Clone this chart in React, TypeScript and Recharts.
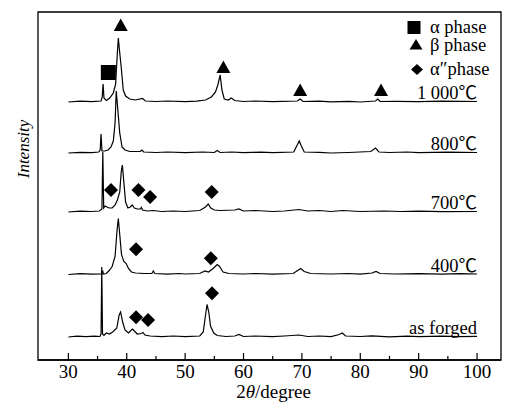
import React from 'react';
import { ComposedChart, Line, Scatter, XAxis, YAxis, ReferenceArea, Legend } from 'recharts';

const FONT = "'Liberation Serif', 'Times New Roman', 'Noto Sans CJK SC', serif";

// 2θ axis
const xDomain = [24.8, 104.1];
const xTicks = [30, 35, 40, 45, 50, 55, 60, 65, 70, 75, 80, 85, 90, 95, 100];
const yDomain = [0, 348];

// curve names and their vertical offsets (arbitrary intensity units)
const curveNames = ['as forged', '400℃', '700℃', '800℃', '1 000℃'];
const curveOffsets = [23, 85.5, 148, 207, 258];

// [2θ, intensity above the curve's own baseline]
const asForged: [number, number][] = [
  [30, 0], [31.5, 0.8], [33, 0.3], [34.5, 0.8], [35.4, 0.5], [35.6, 3], [35.72, 70], [35.85, 3], [36.1, 1.5],
  [36.5, 4], [37, 3], [37.6, 5], [38.3, 9], [38.7, 22], [38.95, 25], [39.3, 15], [39.7, 7], [40.3, 4],
  [40.8, 7], [41.0, 8], [41.3, 6], [41.8, 3], [42.5, 3.5], [42.8, 4.5], [43.1, 2], [44, 1], [46, 0.3],
  [48, 1], [50, 0.4], [52.5, 1], [53.1, 5], [53.45, 20], [53.75, 32.5], [54.05, 25], [54.35, 11], [54.9, 4],
  [55.5, 1.5], [57, 0.5], [58.5, 1], [59.2, 2.5], [60, 0.5], [62, 1], [65, 0.3], [67, 1], [69.5, 2],
  [71, 0.5], [73, 1], [75, 0.3], [76.4, 2.5], [76.9, 4], [77.5, 1], [80, 0.5], [82, 1.2], [85, 0.2],
  [88, 0.8], [90, 0.3], [94, 0.9], [97, 0.4], [100, 0.6],
];

const t400: [number, number][] = [
  [30, 0], [32, 0.8], [34, 0.3], [35.7, 0.5], [35.85, 4], [36.0, 0.5], [36.5, 1], [37.0, 4], [37.5, 8],
  [38.0, 18], [38.35, 45], [38.56, 56], [38.8, 40], [39.1, 20], [39.5, 13], [39.9, 11], [40.3, 6],
  [40.8, 2.5], [41.5, 1.5], [43, 1], [44.3, 1], [44.55, 3.5], [44.8, 1], [47, 0.3], [49, 1], [50, 0.5],
  [52.5, 1], [53.4, 3.5], [54, 2.5], [54.8, 6], [55.5, 10], [55.9, 8], [56.5, 2.5], [57.5, 1], [60, 0.5],
  [62, 1], [65, 0.3], [68.5, 1], [69.4, 4.5], [69.8, 6], [70.4, 3], [71.5, 1], [75, 0.5], [78, 1],
  [80, 0.3], [82, 1.5], [82.7, 3], [83.4, 1], [86, 0.5], [90, 0.8], [94, 0.3], [97, 0.8], [100, 0.5],
];

const t700: [number, number][] = [
  [30, 0], [32, 0.8], [34, 0.5], [35.3, 1], [35.75, 3], [35.9, 60], [36.05, 4], [36.3, 6], [36.6, 5],
  [37.0, 4], [37.5, 4], [38.0, 7], [38.4, 12], [38.8, 20], [39.05, 40], [39.25, 47], [39.5, 30],
  [39.8, 10], [40.2, 4], [40.6, 5], [40.95, 7], [41.3, 4], [41.8, 3], [42.3, 3], [42.5, 4.5], [42.7, 2],
  [43.5, 1], [44.5, 1.5], [46, 0.5], [48, 1], [50, 0.5], [52.5, 1.5], [53.5, 5], [53.95, 8], [54.4, 4],
  [55, 2], [56, 1.5], [58.5, 2], [59.2, 3], [60, 1], [62, 1.5], [65, 0.5], [67, 1], [69.5, 2.5], [71, 1],
  [73, 1.5], [75, 0.5], [77, 1.5], [80, 0.5], [84, 1], [87, 0.5], [90, 0.8], [94, 0.3], [100, 0.5],
];

const t800: [number, number][] = [
  [30, 0], [32, 0.6], [34, 0.3], [35.2, 1], [35.45, 3], [35.6, 19], [35.75, 2], [36.2, 2], [36.8, 3],
  [37.3, 6], [37.7, 12], [38.0, 30], [38.2, 62], [38.45, 45], [38.8, 20], [39.2, 6], [39.7, 3],
  [40.5, 1.5], [42.3, 1.5], [42.6, 3], [42.9, 1], [45, 0.5], [47, 1], [50, 0.4], [53, 1], [55, 0.5],
  [55.5, 2.5], [56, 0.5], [58, 1], [60, 0.4], [63, 0.9], [65, 0.3], [68.6, 1], [69.2, 8], [69.55, 12],
  [69.9, 7], [70.4, 1], [73, 0.6], [75, 0], [78, 0.5], [81.8, 1.5], [82.6, 5], [83.2, 1], [85, 0.5],
  [88, 1], [90, 0.4], [95, 0.8], [100, 0.5],
];

const t1000: [number, number][] = [
  [30, 0], [32, 0.8], [34, 0.4], [35.6, 1], [35.8, 5], [35.95, 18], [36.1, 4], [36.5, 1.5], [37.1, 4],
  [37.7, 9], [38.1, 18], [38.4, 50], [38.56, 64], [38.75, 52], [39.1, 32], [39.4, 12], [39.8, 6],
  [40.5, 3], [41.5, 2], [42.7, 3.5], [43.2, 1], [45, 0.5], [47, 1], [50, 0.3], [52, 0.8], [53.5, 2],
  [54.5, 5], [55.2, 10], [55.6, 17], [56.0, 27], [56.3, 12], [56.7, 3], [57.4, 2], [57.9, 4], [58.5, 1.5],
  [60, 0.5], [62, 1], [65, 0.3], [69.2, 1], [69.7, 3], [70.2, 0.5], [73, 0.8], [75, 0.2], [78, 0.7],
  [80, 0], [82.6, 1], [83.0, 3], [83.4, 0.5], [86, 0.6], [90, 0.3], [94, 0.8], [100, 0.5],
];

const curves = [asForged, t400, t700, t800, t1000];

// phase markers: [2θ, height]
const alphaPeaks: [number, number][] = [[36.85, 287.5]];
const betaPeaks: [number, number][] = [[38.97, 335], [56.55, 293], [69.7, 270], [83.55, 270]];
const alpha2Peaks: [number, number][] = [
  [37.3, 170], [42.0, 170], [44.0, 163], [54.55, 168],
  [41.6, 110.7], [54.4, 101.7],
  [41.6, 42.7], [43.65, 40], [54.6, 66.7],
];

const phaseNames = ['α phase', 'β phase', 'α″phase'];

const toPts = (arr: [number, number][], off = 0) => arr.map(([x, y]) => ({ x, y: y + off }));

const Square = (p: any) => <rect x={p.cx - 7.5} y={p.cy - 7.5} width={15} height={15} fill="#000" />;
const Triangle = (p: any) => (
  <polygon points={`${p.cx},${p.cy - 6.5} ${p.cx + 7},${p.cy + 6} ${p.cx - 7},${p.cy + 6}`} fill="#000" />
);
const Diamond = (p: any) => (
  <polygon points={`${p.cx},${p.cy - 7} ${p.cx + 7},${p.cy} ${p.cx},${p.cy + 7} ${p.cx - 7},${p.cy}`} fill="#000" />
);

const CurveLabel = (p: any) => (
  <text x={p.cx} y={p.cy - 3} textAnchor="end" fontSize={18.5} fontFamily={FONT} fill="#000">
    {p.payload.name}
  </text>
);

const AxisTick = (props: any) => {
  const { x, y, payload } = props;
  const major = payload.value % 10 === 0;
  return (
    <g>
      <line x1={x} x2={x} y1={y} y2={y - (major ? 7 : 4)} stroke="#000" strokeWidth={1.2} />
      {major && (
        <text x={x} y={y + 18} textAnchor="middle" fontSize={19} fontFamily={FONT} fill="#000">
          {payload.value}
        </text>
      )}
    </g>
  );
};

const XTitle = (props: any) => {
  const vb = props.viewBox;
  return (
    <text x={vb.x + vb.width / 2 + 4} y={vb.y + 38} textAnchor="middle" fontSize={19} fontFamily={FONT} fill="#000">
      <tspan>2</tspan>
      <tspan fontStyle="italic">θ</tspan>
      <tspan>/degree</tspan>
    </text>
  );
};

const PhaseLegend = () => (
  <svg width={104} height={76}>
    <rect x={4.5} y={7} width={13} height={13} fill="#000" />
    <polygon points="13,25 19.5,35.5 6.5,35.5" fill="#000" />
    <polygon points="14,50 20,55.5 14,61 8,55.5" fill="#000" />
    {phaseNames.map((n, i) => (
      <text key={n} x={27} y={[19, 36.5, 61][i]} fontSize={18.5} fontFamily={FONT} fill="#000">{n}</text>
    ))}
  </svg>
);

export default function App() {
  const labelData = curveNames.map((name, i) => ({ x: 100, y: curveOffsets[i], name }));
  return (
    <div style={{ position: 'absolute', left: 0, top: 0, width: 506, height: 409, background: '#fff' }}>
      <ComposedChart width={506} height={409} margin={{ top: 12, right: 5, left: 38, bottom: 0 }}>
        <XAxis
          dataKey="x"
          type="number"
          domain={xDomain}
          ticks={xTicks}
          interval={0}
          allowDataOverflow
          height={49}
          tickSize={0}
          tickMargin={0}
          tickLine={false}
          axisLine={{ stroke: '#000', strokeWidth: 1.3 }}
          tick={<AxisTick />}
          label={{ content: <XTitle /> }}
        />
        <YAxis
          dataKey="y"
          type="number"
          domain={yDomain}
          allowDataOverflow
          width={0}
          tick={false}
          tickLine={false}
          axisLine={{ stroke: '#000', strokeWidth: 1.3 }}
        />
        <ReferenceArea x1={xDomain[0]} x2={xDomain[1]} y1={yDomain[0]} y2={yDomain[1]}
          fill="none" stroke="#000" strokeWidth={1.3} ifOverflow="visible" />
        {curves.map((c, i) => (
          <Line key={curveNames[i]} data={toPts(c, curveOffsets[i])} dataKey="y" type="linear"
            stroke="#000" strokeWidth={1.2} dot={false} isAnimationActive={false} />
        ))}
        <Scatter data={toPts(alphaPeaks)} shape={<Square />} isAnimationActive={false} />
        <Scatter data={toPts(betaPeaks)} shape={<Triangle />} isAnimationActive={false} />
        <Scatter data={toPts(alpha2Peaks)} shape={<Diamond />} isAnimationActive={false} />
        <Scatter data={labelData} shape={<CurveLabel />} isAnimationActive={false} />
        <Legend layout="vertical" align="center" verticalAlign="middle" content={<PhaseLegend />}
          wrapperStyle={{ left: 403, top: 14, width: 104 }} />
      </ComposedChart>
      <div
        style={{
          position: 'absolute', left: 23, top: 149, transform: 'translate(-50%, -50%) rotate(-90deg)',
          fontFamily: FONT, fontStyle: 'italic', fontSize: 17, lineHeight: 1, whiteSpace: 'nowrap', color: '#000',
        }}
      >
        Intensity
      </div>
    </div>
  );
}
